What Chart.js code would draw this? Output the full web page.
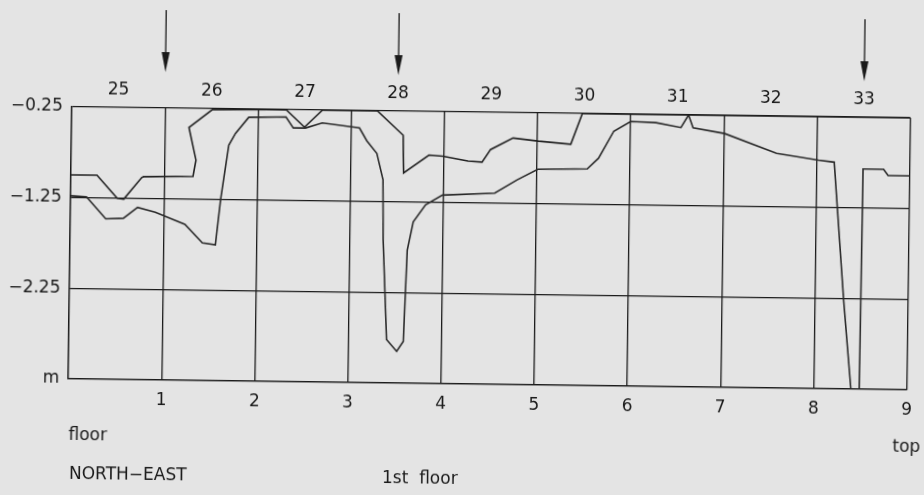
<!DOCTYPE html>
<html>
<head>
<meta charset="utf-8">
<script src="https://cdn.jsdelivr.net/npm/chart.js@4.4.1/dist/chart.umd.min.js"></script>
<style>
  html, body { margin: 0; padding: 0; background: #e4e4e4; overflow: hidden; }
  #wrap { width: 924px; height: 495px; transform: rotate(0.75deg); transform-origin: 50% 50%; }
</style>
</head>
<body>
<div id="wrap"><canvas id="profile" width="924" height="495"></canvas></div>
<script>
//================================ data ================================

// bottom axis (section numbers)
var xTickValues = [0, 1, 2, 3, 4, 5, 6, 7, 8, 9];
var xTickLabels = ['', '1', '2', '3', '4', '5', '6', '7', '8', '9'];

// top axis (bay numbers, between grid lines)
var topTickValues = [0.5, 1.5, 2.5, 3.5, 4.5, 5.5, 6.5, 7.5, 8.5];
var topTickLabels = ['25', '26', '27', '28', '29', '30', '31', '32', '33'];

// depth axis
var yTickValues = [-3.25, -2.25, -1.25, -0.25];
var yTickLabels = ['m', '\u22122.25', '\u22121.25', '\u22120.25'];

// arrows above the chart
var arrowsAt = [1, 3.5, 8.5];

// upper profile
var lineAx = [0, 0.28, 0.50, 0.57, 0.76, 0.78, 1.31, 1.34, 1.26, 1.51, 2.30, 2.50, 2.69, 3.28, 3.56, 3.57,
    3.84, 3.99, 4.26, 4.41, 4.50, 4.74, 5.01, 5.36, 5.48, 9];
var lineAy = [-1.00, -1.00, -1.25, -1.26, -1.02, -1.01, -1.00, -0.82, -0.46, -0.26, -0.25, -0.44, -0.25, -0.25, -0.515, -0.93,
    -0.73, -0.74, -0.79, -0.80, -0.66, -0.53, -0.56, -0.59, -0.25, -0.25];

// lower profile
var lineBx = [0, 0.17, 0.38, 0.57, 0.72, 0.91, 1.23, 1.42, 1.56, 1.61, 1.69, 1.76, 1.90, 2.30, 2.38, 2.51, 2.69,
    3.09, 3.17, 3.28, 3.35, 3.36, 3.41, 3.52, 3.59, 3.62, 3.68, 3.81, 3.99, 4.55, 4.79, 5.01, 5.54, 5.66, 5.82,
    6.00, 6.27, 6.54, 6.62, 6.67, 7.01, 7.57, 8.02, 8.19, 8.23, 8.31, 8.40, 8.49, 8.50, 8.72, 8.77, 9.0];
var lineBy = [-1.23, -1.24, -1.48, -1.47, -1.35, -1.40, -1.53, -1.73, -1.75, -1.25, -0.65, -0.52, -0.34, -0.33, -0.45, -0.45, -0.39,
    -0.44, -0.58, -0.72, -1.01, -1.67, -2.77, -2.90, -2.79, -1.78, -1.47, -1.28, -1.17, -1.14, -0.99, -0.87, -0.86, -0.74, -0.44,
    -0.33, -0.34, -0.39, -0.25, -0.39, -0.45, -0.66, -0.73, -0.75, -1.26, -2.27, -3.25, -3.25, -0.82, -0.82, -0.89, -0.89];

//================================ chart ================================

var ink = '#1a1a1a';
var tickFont = { family: 'DejaVu Sans', size: 17 };

function toPoints(xs, ys) {
    return xs.map(function(v, i) { return { x: v, y: ys[i] }; });
}

// arrows and loose captions
var notes = {
    id: 'notes',
    afterDraw: function(chart) {
        var ctx = chart.ctx;
        var area = chart.chartArea;
        var xs = chart.scales.x;
        ctx.save();
        ctx.strokeStyle = ink;
        ctx.fillStyle = ink;
        ctx.lineWidth = 1.3;
        arrowsAt.forEach(function(v) {
            var px = xs.getPixelForValue(v);
            var top = area.top - 98, tip = area.top - 36;
            ctx.beginPath();
            ctx.moveTo(px, top);
            ctx.lineTo(px, tip - 18);
            ctx.stroke();
            ctx.beginPath();
            ctx.moveTo(px - 4, tip - 20);
            ctx.lineTo(px + 4, tip - 20);
            ctx.lineTo(px, tip);
            ctx.closePath();
            ctx.fill();
        });
        ctx.font = '17px "DejaVu Sans"';
        ctx.textBaseline = 'middle';
        ctx.textAlign = 'left';
        ctx.fillText('floor', area.left + 1, 441);
        ctx.fillText('NORTH\u2212EAST', area.left + 2, 480);
        ctx.fillText('1st  floor', 385, 480);
        ctx.fillText('top', 895, 442);
        ctx.restore();
    }
};

var chrt = document.getElementById('profile').getContext('2d');
var config = {
    type: 'line',
    data: {
        datasets: [{
            label: 'upper',
            data: toPoints(lineAx, lineAy),
            borderColor: '#222222',
            borderWidth: 1.6,
            pointRadius: 0,
            tension: 0,
            fill: false
        }, {
            label: 'lower',
            data: toPoints(lineBx, lineBy),
            borderColor: '#2a2a2a',
            borderWidth: 1.6,
            pointRadius: 0,
            tension: 0,
            fill: false
        }]
    },
    options: {
        responsive: false,
        devicePixelRatio: 1,
        animation: false,
        events: [],
        layout: { padding: { left: 0, right: 4, top: 0, bottom: 0 } },
        plugins: {
            legend: { display: false },
            tooltip: { enabled: false }
        },
        scales: {
            x: {
                type: 'linear',
                position: 'bottom',
                min: 0,
                max: 9,
                afterBuildTicks: function(s) { s.ticks = xTickValues.map(function(v) { return { value: v }; }); },
                afterFit: function(s) { s.height = 111; },
                ticks: {
                    callback: function(v, i) { return xTickLabels[i]; },
                    color: ink, font: tickFont, padding: 10, maxRotation: 0, autoSkip: false
                },
                grid: { color: ink, lineWidth: 1.3, drawTicks: false },
                border: { color: ink, width: 1.3 }
            },
            x2: {
                type: 'linear',
                position: 'top',
                min: 0,
                max: 9,
                afterBuildTicks: function(s) { s.ticks = topTickValues.map(function(v) { return { value: v }; }); },
                afterFit: function(s) { s.height = 112; },
                ticks: {
                    callback: function(v, i) { return topTickLabels[i]; },
                    color: ink, font: tickFont, padding: 7, maxRotation: 0, autoSkip: false
                },
                grid: { display: false, drawTicks: false },
                border: { display: false }
            },
            y: {
                min: -3.25,
                max: -0.25,
                afterBuildTicks: function(s) { s.ticks = yTickValues.map(function(v) { return { value: v }; }); },
                afterFit: function(s) { s.width = 70; },
                ticks: {
                    callback: function(v, i) { return yTickLabels[i]; },
                    color: ink, font: tickFont, padding: 9, autoSkip: false
                },
                grid: { color: ink, lineWidth: 1.3, drawTicks: false },
                border: { color: ink, width: 1.3 }
            }
        }
    },
    plugins: [notes]
};

var profileChart = new Chart(chrt, config);
</script>
</body>
</html>
